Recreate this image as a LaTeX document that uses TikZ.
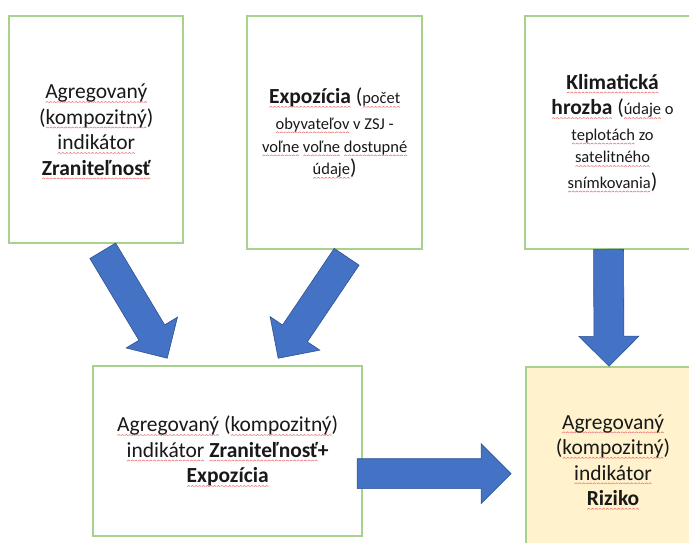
\documentclass[tikz,border=0pt]{standalone}
\usepackage{fontspec}
\setmainfont{Carlito}
\usetikzlibrary{calc}

\definecolor{boxgreen}{HTML}{A9D18E}
\definecolor{arrowblue}{HTML}{4472C4}
\definecolor{arrowedge}{HTML}{2F528F}
\definecolor{riskfill}{HTML}{FFF2CC}
\definecolor{sqred}{HTML}{EC7A7A}

% red wavy underline of a word flagged by the spell checker
\newsavebox\wavebox
\newsavebox\wordbox
\newcommand\makewave{\sbox\wavebox{\pgfpicture
    \pgfsetlinewidth{0.6pt}\pgfsetstrokecolor{sqred}%
    \pgfpathmoveto{\pgfpoint{0pt}{0pt}}%
    \pgfpathlineto{\pgfpoint{1.5pt}{1.1pt}}%
    \pgfpathlineto{\pgfpoint{3pt}{0pt}}%
    \pgfusepath{stroke}%
  \endpgfpicture}}
\newcommand\sq[1]{\sbox\wordbox{#1}%
  \rlap{\raisebox{-4pt}[0pt][0pt]{\hbox to \wd\wordbox{\xleaders\copy\wavebox\hfil}}}\usebox\wordbox}
% smaller type for the explanatory notes
\newcommand\sm{\fontsize{16.5}{22}\selectfont}

\tikzset{
  panel/.style={draw=boxgreen, line width=2pt, fill=white, inner sep=0pt,
    align=center, text=black!90, font=\fontsize{21.5}{25.5}\selectfont},
  blockarrow/.style={fill=arrowblue, draw=arrowedge, line width=0.6pt, line join=miter},
}

% block arrow from tail centre #1 to tip #2
\newcommand\blockarrow[2]{%
  \coordinate (hb) at ($(#2)!30pt!(#1)$);
  \filldraw[blockarrow] ($(#1)!15pt!90:(#2)$) -- ($(hb)!15pt!90:(#2)$)
    -- ($(hb)!30pt!90:(#2)$) -- (#2) -- ($(hb)!30pt!-90:(#2)$)
    -- ($(hb)!15pt!-90:(#2)$) -- ($(#1)!15pt!-90:(#2)$) -- cycle;}

\begin{document}
\begin{tikzpicture}[x=1pt, y=-1pt]
  \makewave
  \useasboundingbox (0,0) rectangle (689,541);
  \clip (0,0) rectangle (689,541);

  % input indicators
  \node[panel, minimum width=174pt, minimum height=227pt] (vul) at (96,128.5)
    {\sq{Agregovaný}\\(\sq{kompozitný})\\\sq{indikátor}\\\textbf{\sq{Zraniteľnosť}}};
  \node[panel, minimum width=175pt, minimum height=233pt] (expo) at (334.5,131.5)
    {\textbf{\sq{Expozícia}} ({\sm\sq{počet}}\\{\sm\sq{obyvateľov} v ZSJ -}\\[-2.5pt]{\sm\sq{voľne} \sq{voľne} \sq{dostupné}}\\[-3pt]{\sm\sq{údaje}})};
  \node[panel, minimum width=175pt, minimum height=233pt] (threat) at (612.5,131.5)
    {\textbf{\sq{Klimatická}}\\\textbf{\sq{hrozba}} ({\sm\sq{údaje} o}\\{\sm\sq{teplotách} zo}\\[-3pt]{\sm\sq{satelitného}}\\{\sm\sq{snímkovania}})};

  % composite indicators
  \node[panel, minimum width=269pt, minimum height=170pt] (vulexpo) at (227.5,450)
    {\sq{Agregovaný} (\sq{kompozitný})\\\sq{indikátor} \textbf{\sq{Zraniteľnosť}+}\\\textbf{\sq{Expozícia}}};
  \node[panel, fill=riskfill, minimum width=174pt, minimum height=186pt] (risk) at (613,459)
    {\sq{Agregovaný}\\(\sq{kompozitný})\\\sq{indikátor}\\\textbf{\sq{Riziko}}};

  % arrow end points
  \coordinate (a1s) at (102.5,249.5); \coordinate (a1t) at (167,357);
  \coordinate (a2s) at (346.5,255.5); \coordinate (a2t) at (278,357);
  \coordinate (a3s) at (608.5,248);   \coordinate (a3t) at (609,365);
  \coordinate (a4s) at (357,472.5);   \coordinate (a4t) at (511,472.5);

  \blockarrow{a1s}{a1t}
  \blockarrow{a2s}{a2t}
  \blockarrow{a3s}{a3t}
  \blockarrow{a4s}{a4t}
\end{tikzpicture}
\end{document}
